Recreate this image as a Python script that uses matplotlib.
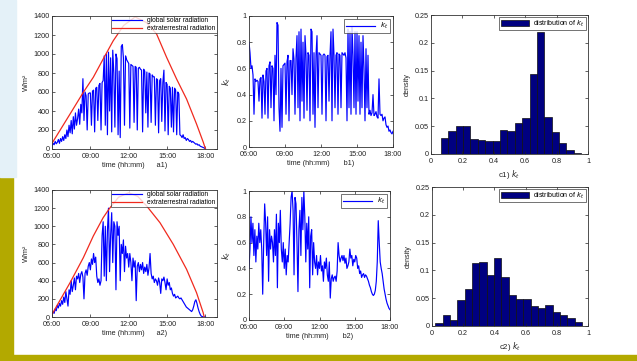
import numpy as np
import matplotlib
matplotlib.use("Agg")
import matplotlib.pyplot as plt
from matplotlib.patches import Rectangle

plt.rcParams['font.family'] = ['Liberation Sans', 'DejaVu Sans']

# ---- data (5 minute steps starting 06:00) ----
glob_a1 = [30, 60, 45, 80, 55, 70, 100, 60, 110, 80, 130, 90,
           150, 110, 200, 130, 250, 170, 300, 160, 340, 210, 380, 250,
           320, 420, 260, 470, 380, 740, 300, 600, 560, 200, 580, 590,
           590, 250, 610, 620, 180, 640, 650, 300, 670, 690, 200, 700,
           720, 980, 250, 1000, 150, 1020, 400, 960, 180, 1040, 800, 230,
           1000, 950, 150, 820, 120, 1080, 1100, 960, 250, 980, 940, 920,
           900, 220, 890, 880, 870, 280, 870, 860, 200, 850, 860, 840,
           830, 180, 840, 820, 380, 810, 230, 800, 790, 280, 780, 760,
           760, 250, 740, 730, 170, 720, 740, 290, 700, 830, 190, 700,
           680, 150, 660, 640, 230, 650, 180, 640, 620, 150, 600, 580,
           150, 140, 120, 150, 110, 120, 90, 110, 100, 80, 90, 70,
           80, 70, 60, 50, 55, 40, 45, 30, 25, 20, 15, 10,
           0]

extra_a1_t = [6.0, 7.41, 8.45, 9.23, 10.0, 10.79, 11.6, 12.5, 13.4, 14.18,
              14.96, 15.74, 16.52, 17.3, 17.83, 18.0]
extra_a1 = [60, 368, 597, 755, 947, 1140, 1300, 1390, 1330, 1210,
            965, 737, 526, 263, 70, 0]

kt_b1 = [0.80, 0.72, 0.60, 0.62, 0.55, 0.25, 0.52, 0.50, 0.51, 0.50, 0.35, 0.52,
         0.53, 0.22, 0.55, 0.50, 0.25, 0.58, 0.60, 0.22, 0.62, 0.65, 0.30, 0.62,
         0.60, 0.20, 0.70, 0.40, 0.95, 0.93, 0.30, 0.12, 0.60, 0.15, 0.62, 0.63,
         0.64, 0.25, 0.65, 0.70, 0.20, 0.66, 0.66, 0.40, 0.75, 0.67, 0.25, 0.68,
         0.85, 0.30, 0.88, 0.20, 0.90, 0.35, 0.80, 0.22, 0.85, 0.70, 0.28, 0.72,
         0.70, 0.20, 0.90, 0.88, 0.25, 0.72, 0.15, 0.70, 0.85, 0.30, 0.72, 0.71,
         0.70, 0.25, 0.70, 0.71, 0.70, 0.20, 0.69, 0.70, 0.35, 0.70, 0.88, 0.20,
         0.90, 0.70, 0.30, 0.70, 0.72, 0.25, 0.71, 0.70, 0.30, 0.72, 0.71, 0.70,
         0.72, 0.68, 0.20, 0.90, 0.30, 0.88, 0.25, 0.92, 0.70, 0.30, 0.88, 0.25,
         0.88, 0.35, 0.85, 0.25, 0.80, 0.30, 0.85, 0.60, 0.20, 0.75, 0.30, 0.70,
         0.25, 0.28, 0.24, 0.26, 0.40, 0.24, 0.25, 0.27, 0.23, 0.22, 0.52, 0.25,
         0.24, 0.25, 0.20, 0.22, 0.23, 0.17, 0.15, 0.16, 0.12, 0.13, 0.11, 0.10,
         0.12]

glob_a2 = [20, 60, 40, 90, 70, 130, 100, 150, 120, 180, 140, 220,
           160, 280, 200, 120, 300, 250, 400, 280, 350, 430, 300, 450,
           420, 480, 380, 470, 500, 440, 200, 480, 520, 460, 560, 600,
           520, 640, 580, 700, 600, 660, 450, 380, 420, 350, 400, 900,
           1050, 450, 1000, 400, 950, 1200, 500, 900, 1150, 600, 1050, 1000,
           300, 1050, 900, 1000, 400, 800, 700, 850, 500, 780, 650, 700,
           550, 700, 600, 400, 650, 550, 620, 180, 560, 600, 500, 580,
           520, 600, 480, 550, 500, 580, 460, 540, 700, 480, 420, 450,
           380, 420, 400, 350, 430, 380, 260, 420, 400, 440, 380, 300,
           420, 350, 380, 300, 320, 260, 230, 250, 210, 220, 230, 210,
           200, 210, 190, 170, 150, 130, 110, 100, 90, 80, 70, 60,
           80, 120, 170, 190, 150, 100, 60, 30, 10, 5, 0, 0,
           0]

extra_a2_t = [6.0, 7.41, 8.45, 9.23, 10.0, 10.48, 11.2, 12.0, 12.7, 13.4,
              14.44, 15.48, 16.52, 17.3, 17.82, 17.9]
extra_a2 = [30, 378, 654, 893, 1095, 1194, 1320, 1370, 1330, 1224,
            1040, 801, 526, 268, 47, 0]

kt_b2 = [0.40, 0.55, 0.80, 0.60, 0.75, 0.50, 0.70, 0.45, 0.65, 0.55, 0.75, 0.60,
         0.70, 0.55, 0.20, 0.60, 0.90, 0.75, 0.50, 0.80, 0.30, 0.70, 0.55, 0.65,
         0.60, 0.45, 0.70, 0.50, 0.82, 0.25, 0.75, 0.60, 0.85, 0.55, 0.45, 0.60,
         0.40, 0.55, 0.35, 0.50, 0.45, 0.60, 0.75, 0.95, 1.00, 0.85, 0.35, 0.95,
         0.90, 0.60, 0.22, 0.70, 0.85, 0.50, 0.95, 0.70, 1.00, 0.80, 0.45, 0.75,
         0.55, 0.80, 0.25, 0.65, 0.70, 0.35, 0.60, 0.45, 0.40, 0.50, 0.35, 0.45,
         0.40, 0.50, 0.38, 0.42, 0.30, 0.45, 0.40, 0.48, 0.35, 0.30, 0.45, 0.17,
         0.32, 0.35, 0.30, 0.33, 0.34, 0.30, 0.38, 0.60, 0.50, 0.45, 0.48, 0.50,
         0.46, 0.50, 0.44, 0.48, 0.40, 0.42, 0.45, 0.55, 0.48, 0.50, 0.42, 0.47,
         0.45, 0.50, 0.48, 0.40, 0.42, 0.36, 0.38, 0.33, 0.35, 0.36, 0.33, 0.35,
         0.34, 0.32, 0.30, 0.27, 0.25, 0.22, 0.20, 0.19, 0.20, 0.23, 0.30, 0.45,
         0.77, 0.60, 0.45, 0.40, 0.36, 0.30, 0.24, 0.20, 0.16, 0.13, 0.11, 0.09,
         0.08]

# histograms of k_t: bin centres and density
bins_c1 = [0.087, 0.134, 0.181, 0.228, 0.275, 0.322, 0.369, 0.416, 0.463, 0.510,
           0.557, 0.604, 0.651, 0.698, 0.745, 0.792, 0.839, 0.886, 0.934]
dens_c1 = [0.028, 0.042, 0.050, 0.050, 0.027, 0.026, 0.023, 0.023, 0.044, 0.042,
           0.055, 0.064, 0.143, 0.220, 0.066, 0.040, 0.019, 0.007, 0.002]
bins_c2 = [0.045, 0.092, 0.139, 0.186, 0.233, 0.280, 0.327, 0.374, 0.421, 0.468,
           0.515, 0.562, 0.609, 0.656, 0.703, 0.750, 0.797, 0.844, 0.891, 0.938]
dens_c2 = [0.005, 0.019, 0.010, 0.046, 0.066, 0.113, 0.116, 0.092, 0.122, 0.089,
           0.055, 0.049, 0.049, 0.036, 0.033, 0.037, 0.025, 0.020, 0.015, 0.007]

time_ticks = [6, 9, 12, 15, 18]
time_labels = ['06:00', '09:00', '12:00', '15:00', '18:00']

FS = 5.2
TXT = '#222222'


def minutes(vals):
    return 6 + np.arange(len(vals)) * 5 / 60.0


def style(ax):
    ax.tick_params(direction='in', length=2.5, width=0.5, labelsize=FS,
                   top=True, right=True, colors=TXT, pad=1.5)
    ax.tick_params(axis='x', pad=3)
    for s in ax.spines.values():
        s.set_linewidth(0.6)
        s.set_color('#333333')


def radiation(ax, glob, et_t, et, tag):
    ax.plot(minutes(glob), glob, color='#0000ff', lw=0.85, label='global solar radiation')
    ax.plot(et_t, et, color='#f02a1e', lw=0.9, label='extraterrestral radiation')
    ax.set_xlim(6, 18.9)
    ax.set_ylim(0, 1400)
    ax.set_yticks(range(0, 1401, 200))
    ax.set_xticks(time_ticks)
    ax.set_xticklabels(time_labels)
    ax.set_ylabel('W/m²', fontsize=FS, color=TXT, labelpad=3)
    ax.set_xlabel('time (hh:mm)      ' + tag, fontsize=FS, color=TXT, labelpad=1.5)
    leg = ax.legend(loc='upper right', fontsize=FS - 0.4, frameon=True, fancybox=False,
                    borderpad=0.2, handlelength=4.5, labelspacing=0.1,
                    borderaxespad=0.0, handletextpad=0.8)
    leg.get_frame().set_edgecolor('#333333')
    leg.get_frame().set_linewidth(0.6)
    style(ax)


def clearness(ax, kt, tag):
    ax.plot(minutes(kt), kt, color='#0000ff', lw=0.85, label='$k_t$')
    ax.set_xlim(6, 18)
    ax.set_ylim(0, 1)
    ax.set_yticks([0, 0.2, 0.4, 0.6, 0.8, 1])
    ax.set_yticklabels(['0', '0.2', '0.4', '0.6', '0.8', '1'])
    ax.set_xticks(time_ticks)
    ax.set_xticklabels(time_labels)
    ax.set_ylabel('$k_t$', fontsize=FS + 1, color=TXT, labelpad=3)
    ax.set_xlabel('time (hh:mm)       ' + tag, fontsize=FS, color=TXT, labelpad=1.5)
    leg = ax.legend(loc='upper right', fontsize=FS, frameon=True, fancybox=False,
                    borderpad=0.3, handlelength=4.0, borderaxespad=0.4,
                    handletextpad=0.6)
    leg.get_frame().set_edgecolor('#333333')
    leg.get_frame().set_linewidth(0.6)
    style(ax)


def histogram(ax, centres, dens, tag):
    ax.bar(centres, dens, width=0.047, color='#000080', edgecolor='#101010',
           linewidth=0.5, label='distribution of $k_t$')
    ax.set_xlim(0, 1)
    ax.set_ylim(0, 0.25)
    ax.set_yticks([0, 0.05, 0.1, 0.15, 0.2, 0.25])
    ax.set_yticklabels(['0', '0.05', '0.1', '0.15', '0.2', '0.25'])
    ax.set_xticks([0, 0.2, 0.4, 0.6, 0.8, 1])
    ax.set_xticklabels(['0', '0.2', '0.4', '0.6', '0.8', '1'])
    ax.set_ylabel('density', fontsize=FS, color=TXT, labelpad=3)
    ax.set_xlabel(tag + ' $k_t$', fontsize=FS + 0.5, color=TXT, labelpad=2)
    leg = ax.legend(loc='upper right', fontsize=FS - 0.2, frameon=True, fancybox=False,
                    borderpad=0.2, handlelength=4.0, handleheight=1.0,
                    borderaxespad=0.3, handletextpad=0.6)
    leg.get_frame().set_edgecolor('#333333')
    leg.get_frame().set_linewidth(0.6)
    style(ax)


W, H = 637, 361
fig = plt.figure(figsize=(W / 100, H / 100), dpi=100)
fig.patch.set_facecolor('white')

# slide decoration
olive = '#b3a900'
fig.add_artist(Rectangle((0, 0), 13 / W, 184 / H, transform=fig.transFigure,
                         color=olive, zorder=0))
fig.add_artist(Rectangle((0, 0), 1, 6 / H, transform=fig.transFigure,
                         color=olive, zorder=0))
fig.add_artist(Rectangle((0, 184 / H), 16 / W, 177 / H, transform=fig.transFigure,
                         color='#e4f1f8', zorder=0))


def box(l, r, t, b):
    return [l / W, (H - b) / H, (r - l) / W, (b - t) / H]


ax_a1 = fig.add_axes(box(52, 217, 16, 149))
ax_b1 = fig.add_axes(box(249, 393, 16, 147))
ax_c1 = fig.add_axes(box(431, 588, 15, 154))
ax_a2 = fig.add_axes(box(52, 217, 190, 317))
ax_b2 = fig.add_axes(box(249, 390, 191, 320))
ax_c2 = fig.add_axes(box(432, 588, 187, 326))

radiation(ax_a1, glob_a1, extra_a1_t, extra_a1, 'a1)')
radiation(ax_a2, glob_a2, extra_a2_t, extra_a2, 'a2)')
clearness(ax_b1, kt_b1, 'b1)')
clearness(ax_b2, kt_b2, 'b2)')
histogram(ax_c1, bins_c1, dens_c1, 'c1)')
histogram(ax_c2, bins_c2, dens_c2, 'c2)')

fig.savefig('out.png', dpi=100)
